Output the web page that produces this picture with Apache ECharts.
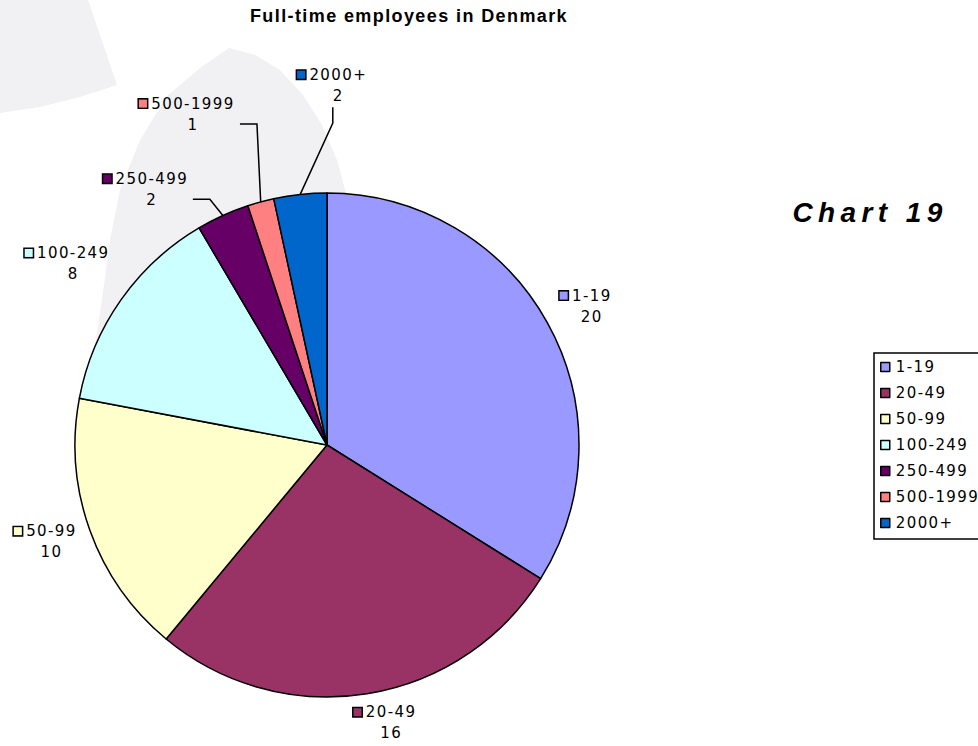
<!DOCTYPE html>
<html>
<head>
<meta charset="utf-8">
<script src="https://cdn.jsdelivr.net/npm/echarts@6/dist/echarts.min.js"></script>
<style>
  html, body { margin: 0; padding: 0; background: #fff; }
  #chart { width: 978px; height: 746px; }
  /* spaced-out lettering of the exported sheet */
  #chart text { letter-spacing: 1.4px; }
  #chart text[style*="italic"] { letter-spacing: 5.4px; }
</style>
</head>
<body>
<div id="chart"></div>
<script>
// Firm size classes (number of full-time employees) and number of firms
const categories = ['1-19', '20-49', '50-99', '100-249', '250-499', '500-1999', '2000+'];
const firmCounts = [20, 16, 10, 8, 2, 1, 2];
const sliceColors = ['#9999FF', '#993366', '#FFFFCC', '#CCFFFF', '#660066', '#FF8080', '#0066CC'];

const chartTitle = 'Full-time employees in Denmark';
const sideCaption = 'Chart 19';

// Pie geometry (pixels)
const pieCenter = [327, 445];
const pieRadius = 252;

// Label placement: distance from the centre and a small turn away from the slice mid-angle (degrees)
const labelDist = [299, 285, 292, 312, 310, 357, 360];
const labelTurn = [1.3, -3.85, 0.5, 0.5, -10.0, -6.8, 7.9];

// Leader lines for the thin slices: 'h' = elbow then horizontal run to the label, 'v' = vertical run up to the label
const leaders = {
  4: { kind: 'h', dx: 41 },
  5: { kind: 'h', dx: 47 },
  6: { kind: 'v', dx: -5.5 }
};

// Faint backdrop emblem
const backdrop = [
  [[0, 0], [88, 0], [117, 85], [80, 97], [40, 107], [0, 113]],
  [[229, 48], [255, 55], [280, 70], [303, 95], [322, 125], [337, 160], [348, 200], [350, 300],
   [200, 400], [95, 345], [102, 300], [110, 240], [120, 190], [140, 140], [167, 96], [200, 68]]
];

const LETTER_SPACING = 1.4;   // matches the CSS rule above
const BOX = 8;

const total = firmCounts.reduce((a, b) => a + b, 0);
const midAngles = [];
(function () {
  let acc = 0;
  firmCounts.forEach(v => { midAngles.push((acc + v / 2) / total * 360); acc += v; });
})();

function polar(dist, deg) {
  const r = deg * Math.PI / 180;
  return [pieCenter[0] + dist * Math.sin(r), pieCenter[1] - dist * Math.cos(r)];
}
function labelAnchor(i) {
  return polar(labelDist[i], midAngles[i] + labelTurn[i]);
}

const rich = {
  name: { fontFamily: 'DejaVu Sans', fontSize: 15, color: '#000', lineHeight: 21 },
  val: { fontFamily: 'DejaVu Sans', fontSize: 15, color: '#000', lineHeight: 21 }
};
categories.forEach((c, i) => {
  // centred spaced text grows by half its extra spacing on each side
  const gap = 5 + LETTER_SPACING * (c.length - 1) / 2;
  rich['box' + i] = { width: BOX, height: BOX, backgroundColor: sliceColors[i], borderColor: '#000', borderWidth: 1.5, lineHeight: 21 };
  rich['gap' + i] = { width: gap, lineHeight: 21 };
  rich['pad' + i] = { width: BOX + gap, lineHeight: 21 };
});

const graphics = backdrop.map(pts => ({
  type: 'polygon', silent: true, z: -10,
  shape: { points: pts },
  style: { fill: '#f1f1f3' }
}));
Object.keys(leaders).forEach(k => {
  const i = +k, ld = leaders[k];
  const [x, y] = labelAnchor(i);
  const start = polar(pieRadius, midAngles[i]);
  let pts;
  if (ld.kind === 'h') {
    pts = [start, [x + ld.dx + 17, y + 10], [x + ld.dx, y + 10]];
  } else {
    pts = [start, [x + ld.dx, y + 38], [x + ld.dx, y + 22]];
  }
  graphics.push({
    type: 'polyline', silent: true, z: 5,
    shape: { points: pts },
    style: { stroke: '#000', lineWidth: 1.5, fill: null }
  });
});

const chart = echarts.init(document.getElementById('chart'), null, { renderer: 'svg' });
chart.setOption({
  animation: false,
  backgroundColor: '#fff',
  title: [
    {
      text: chartTitle, left: 409, top: 7, padding: 0, textAlign: 'center',
      textStyle: { fontFamily: 'Liberation Sans', fontWeight: 'bold', fontSize: 18, color: '#000' }
    },
    {
      text: sideCaption, left: 870, top: 198, padding: 0, textAlign: 'center',
      textStyle: { fontFamily: 'Liberation Sans', fontWeight: 'bold', fontStyle: 'italic', fontSize: 28, color: '#000' }
    }
  ],
  legend: {
    orient: 'vertical',
    left: 874, top: 353,
    padding: [6, 40, 8, 6],
    itemWidth: 9, itemHeight: 9, itemGap: 10,
    icon: 'rect',
    selectedMode: false,
    borderColor: '#000', borderWidth: 1.5,
    itemStyle: { borderColor: '#000', borderWidth: 1.5 },
    textStyle: { fontFamily: 'DejaVu Sans', fontSize: 15, color: '#000', lineHeight: 16, padding: [0, 0, 0, 1] },
    data: categories
  },
  graphic: graphics,
  series: [{
    type: 'pie',
    center: pieCenter,
    radius: pieRadius,
    startAngle: 90,
    clockwise: true,
    avoidLabelOverlap: false,
    minShowLabelAngle: 0,
    emphasis: { disabled: true },
    itemStyle: { borderColor: '#000', borderWidth: 1.5 },
    label: {
      show: true,
      position: 'outside',
      align: 'center',
      formatter: p => {
        const i = p.dataIndex;
        return `{box${i}|}{gap${i}|}{name|${p.name}}{pad${i}|}\n{val|${p.value}}`;
      },
      rich: rich
    },
    labelLine: { show: false },
    labelLayout: params => {
      const [x, y] = labelAnchor(params.dataIndex);
      return { x: x, y: y, align: 'center', verticalAlign: 'middle' };
    },
    data: categories.map((c, i) => ({ name: c, value: firmCounts[i], itemStyle: { color: sliceColors[i] } }))
  }]
});
</script>
</body>
</html>
